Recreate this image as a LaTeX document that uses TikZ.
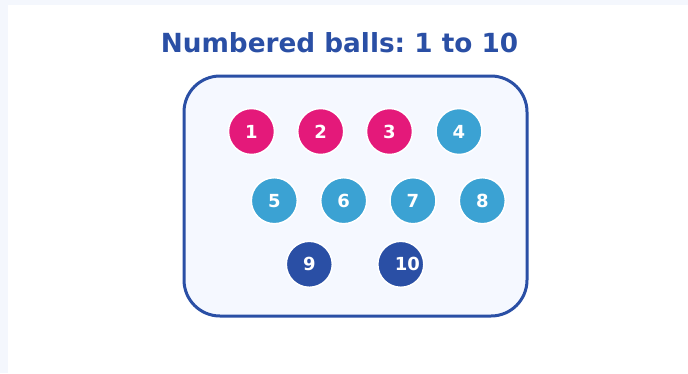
\documentclass[tikz,border=0pt]{standalone}
\usepackage{fontspec}
\setmainfont{DejaVu Sans}
\frenchspacing
\definecolor{bgout}{HTML}{F4F7FD}
\definecolor{boxfill}{HTML}{F5F8FF}
\definecolor{dblue}{HTML}{2A4FA5}
\definecolor{pinkb}{HTML}{E4197A}
\definecolor{lblue}{HTML}{3BA2D3}
\tikzset{
  balltext/.style={text=white, font=\fontsize{18}{20}\selectfont\bfseries, inner sep=0pt},
  ball/.style={circle, draw=white, line width=1.5pt, minimum size=46pt, inner sep=0pt, balltext},
  pinkball/.style={ball, fill=pinkb},
  lball/.style={ball, fill=lblue},
  dball/.style={ball, fill=dblue},
}
\begin{document}
\begin{tikzpicture}[x=1pt,y=-1pt]
\fill[bgout] (0,0) rectangle (688,373);
\fill[white] (8,5) rectangle (688,373);
\useasboundingbox (0,0) rectangle (688,373);
\node[anchor=base, text=dblue, font=\fontsize{26.3}{28}\selectfont\bfseries] (title) at (339.5,52.8) {Numbered balls: 1 to 10};
\draw[dblue, line width=3pt, fill=boxfill, rounded corners=36pt] (184,76) rectangle (527,316);
\node[pinkball] (b1) at (251.5,131.5) {1};
\node[pinkball] (b2) at (320.7,131.5) {2};
\node[pinkball] (b3) at (389.5,131.5) {3};
\node[lball] (b4) at (459,131.5) {4};
\node[lball] (b5) at (274.3,200.7) {5};
\node[lball] (b6) at (343.7,200.7) {6};
\node[lball] (b7) at (413,200.7) {7};
\node[lball] (b8) at (482.3,200.7) {8};
\node[dball] (b9) at (309.3,264.3) {9};
\node[dball] (b10) at (400.8,264.3) {};
\node[balltext] (t10) at ([xshift=6.5pt]b10.center) {10};
\end{tikzpicture}
\end{document}
